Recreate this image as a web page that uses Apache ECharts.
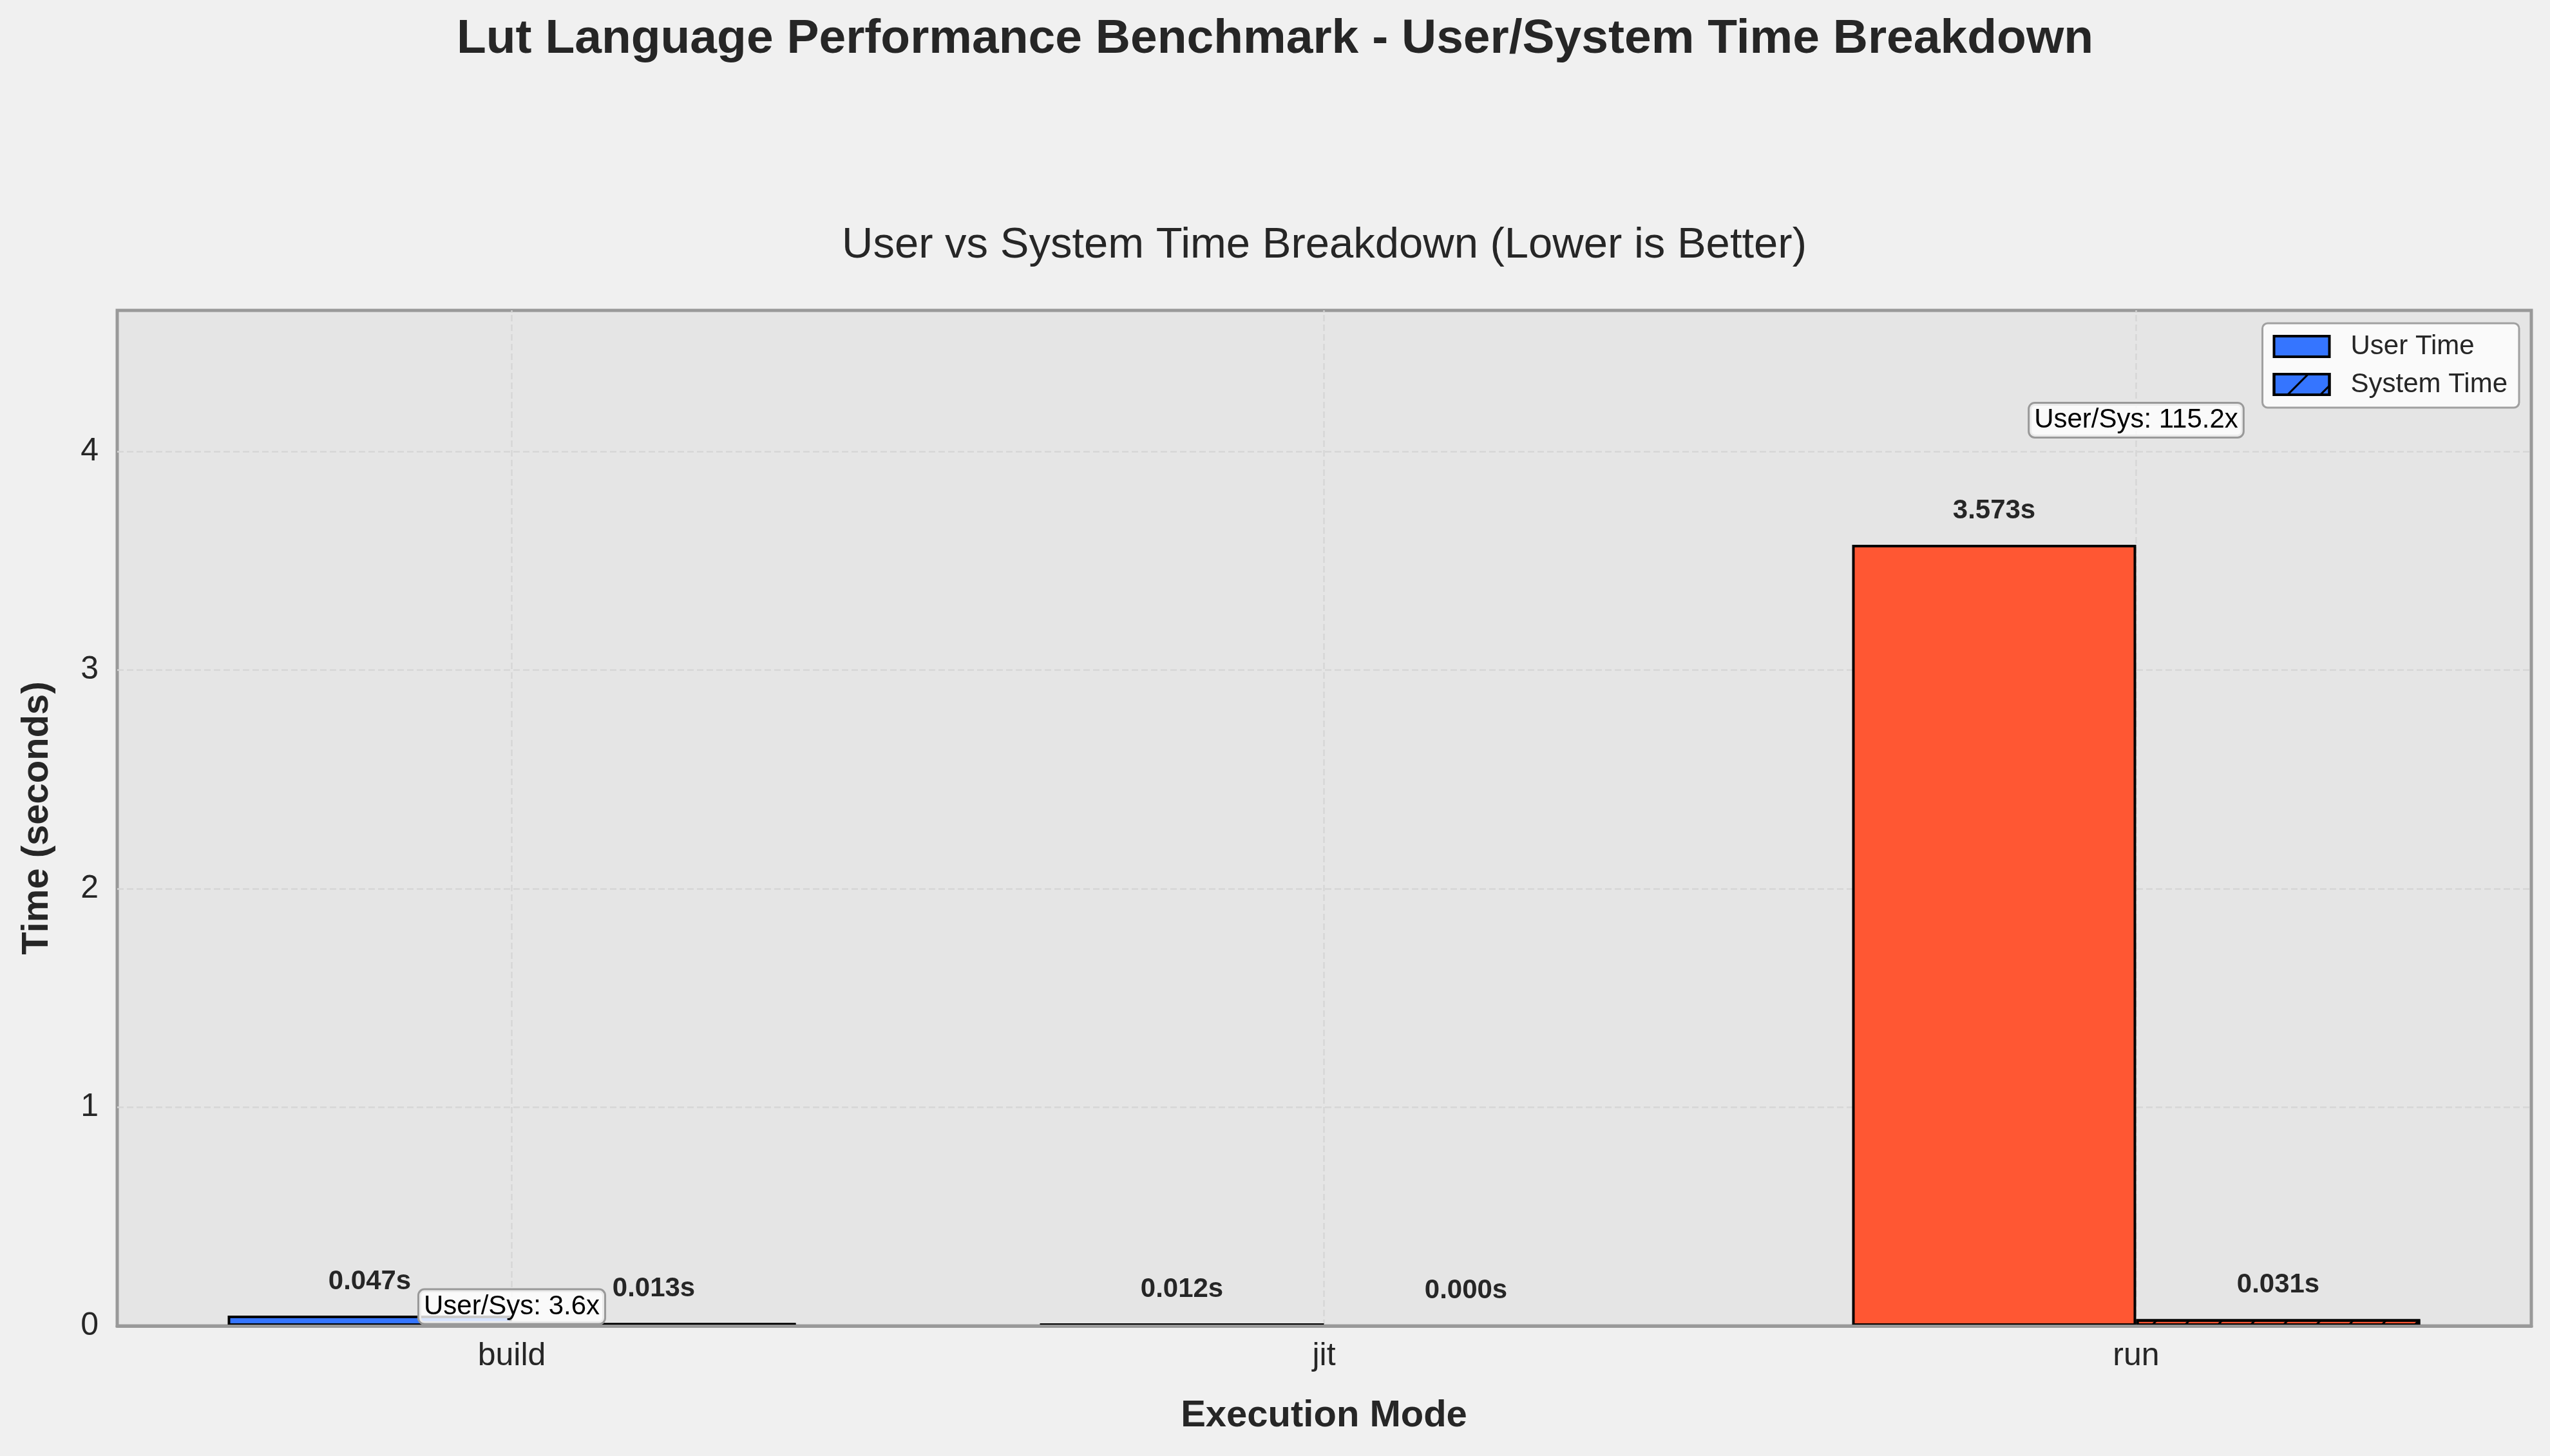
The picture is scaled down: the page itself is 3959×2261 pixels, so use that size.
<!DOCTYPE html>
<html><head><meta charset="utf-8">
<script src="https://cdn.jsdelivr.net/npm/echarts@6/dist/echarts.min.js"></script>
<style>html,body{margin:0;padding:0;background:#f0f0f0}#c{width:3959px;height:2261px}</style>
</head><body><div id="c"></div>
<script>
// ---- data ----
const CATEGORIES = ['build', 'jit', 'run'];
const USER_TIME = [0.047, 0.012, 3.573];
const SYSTEM_TIME = [0.013, 0.000, 0.031];
const MODE_COLORS = ['#3575FF', '#2ECC71', '#FF5733'];
const Y_TICKS = [0, 1, 2, 3, 4];
const Y_MAX = 4.645;
const ANNOT_MODES = ['build', 'run'];
const ANNOT_Y = [0.088, 4.143];
const ANNOT_RATIO = [3.6, 115.2];

const FONT = '"Liberation Sans", Arial, Helvetica, sans-serif';
const TXT = '#262626';

const chart = echarts.init(document.getElementById('c'), null, {renderer: 'canvas'});

const hatch = {
  symbol: 'rect', symbolSize: 1, color: '#000',
  dashArrayX: [1, 0], dashArrayY: [3, 33], rotation: -Math.PI / 4
};

const valueLabel = {
  show: true, position: 'top', distance: 32,
  fontFamily: FONT, fontSize: 42, fontWeight: 'bold', color: TXT,
  formatter: p => p.value.toFixed(3) + 's'
};

const annotData = ANNOT_MODES.map((m, k) => [CATEGORIES.indexOf(m), ANNOT_Y[k]]);

const option = {
  backgroundColor: '#f0f0f0',
  animation: false,
  title: [
    {text: 'Lut Language Performance Benchmark - User/System Time Breakdown', left: 'center', top: 19,
     textStyle: {fontFamily: FONT, fontSize: 75, fontWeight: 'bold', color: TXT}}
  ],
  graphic: [
    {type: 'text', x: 2056, y: 382, silent: true,
     style: {text: 'User vs System Time Breakdown (Lower is Better)', align: 'center', verticalAlign: 'middle',
       font: 'normal 67px ' + FONT, fill: TXT}}
  ],
  legend: {
    orient: 'vertical', right: 48, top: 502,
    data: ['User Time', 'System Time'],
    icon: 'rect', itemWidth: 86, itemHeight: 32, itemGap: 17,
    padding: [15, 18, 15, 16],
    backgroundColor: 'rgba(255,255,255,0.8)', borderColor: '#a0a0a0', borderWidth: 3, borderRadius: 8,
    itemStyle: {borderColor: '#000', borderWidth: 4},
    textStyle: {fontFamily: FONT, fontSize: 42, color: TXT, padding: [0, 0, 0, 28]}
  },
  grid: [
    {left: 182, right: 29, top: 482, bottom: 202, show: true, backgroundColor: '#e5e5e5',
     borderColor: '#999999', borderWidth: 5},
    {left: 164, right: 12, top: 482, bottom: 202}
  ],
  xAxis: [
    {type: 'value', gridIndex: 0, min: 0, max: 1, z: 10,
     axisLine: {show: true, onZero: false, lineStyle: {color: '#999999', width: 5}},
     axisTick: {show: false}, axisLabel: {show: false}, splitLine: {show: false}},
    {type: 'category', gridIndex: 1, data: CATEGORIES,
     axisLine: {show: false}, axisTick: {show: false}, splitLine: {show: false},
     axisLabel: {fontFamily: FONT, fontSize: 50, color: TXT, margin: 22},
     name: 'Execution Mode', nameLocation: 'middle', nameGap: 111,
     nameTextStyle: {fontFamily: FONT, fontSize: 58, fontWeight: 'bold', color: TXT}}
  ],
  yAxis: [
    {type: 'value', gridIndex: 0, min: 0, max: Y_MAX, interval: 1,
     axisLine: {show: false}, axisTick: {show: false},
     axisLabel: {fontFamily: FONT, fontSize: 50, color: TXT, margin: 29, showMaxLabel: false,
       formatter: v => Y_TICKS.includes(v) ? String(v) : ''},
     splitLine: {show: true, showMinLine: false, showMaxLine: false,
       lineStyle: {color: '#d6d6d6', width: 2.5, type: [10, 5]}},
     name: 'Time (seconds)', nameLocation: 'middle', nameGap: 95,
     nameTextStyle: {fontFamily: FONT, fontSize: 58, fontWeight: 'bold', color: TXT}},
    {type: 'value', gridIndex: 1, min: 0, max: Y_MAX, show: false}
  ],
  series: [
    {
      type: 'custom', name: 'vgrid', xAxisIndex: 1, yAxisIndex: 1, z: 1, silent: true,
      data: CATEGORIES.map((c, i) => [i]),
      renderItem: (params, api) => {
        const x = api.coord([api.value(0), 0])[0];
        const y0 = api.coord([api.value(0), 0])[1];
        const y1 = api.coord([api.value(0), Y_MAX])[1];
        return {type: 'line', shape: {x1: x, y1: y0, x2: x, y2: y1},
          style: {stroke: '#d6d6d6', lineWidth: 2.5, lineDash: [10, 5]}};
      }
    },
    {
      type: 'bar', name: 'User Time', xAxisIndex: 1, yAxisIndex: 1, z: 2,
      barWidth: 441, barGap: '0%',
      itemStyle: {color: MODE_COLORS[0], borderColor: '#000', borderWidth: 4},
      data: USER_TIME.map((v, i) => ({value: v, itemStyle: {color: MODE_COLORS[i]}})),
      label: valueLabel
    },
    {
      type: 'bar', name: 'System Time', xAxisIndex: 1, yAxisIndex: 1, z: 2,
      barWidth: 441, barGap: '0%',
      itemStyle: {color: MODE_COLORS[0], borderColor: '#000', borderWidth: 4, decal: hatch},
      data: SYSTEM_TIME.map((v, i) => ({value: v, itemStyle: {color: MODE_COLORS[i], decal: hatch}})),
      label: valueLabel
    },
    {
      type: 'custom', name: 'ratio', xAxisIndex: 1, yAxisIndex: 1, z: 5, silent: true,
      data: annotData,
      renderItem: (params, api) => {
        const p = api.coord([api.value(0), api.value(1)]);
        return {type: 'text', x: p[0], y: p[1],
          style: {text: 'User/Sys: ' + ANNOT_RATIO[params.dataIndex].toFixed(1) + 'x',
            align: 'center', verticalAlign: 'middle',
            font: '42px ' + FONT, fill: '#000',
            backgroundColor: 'rgba(255,255,255,0.8)', borderColor: '#999999', borderWidth: 3,
            borderRadius: 8, padding: [5, 7, 4, 7]}};
      }
    }
  ]
};
chart.setOption(option);
</script></body></html>
